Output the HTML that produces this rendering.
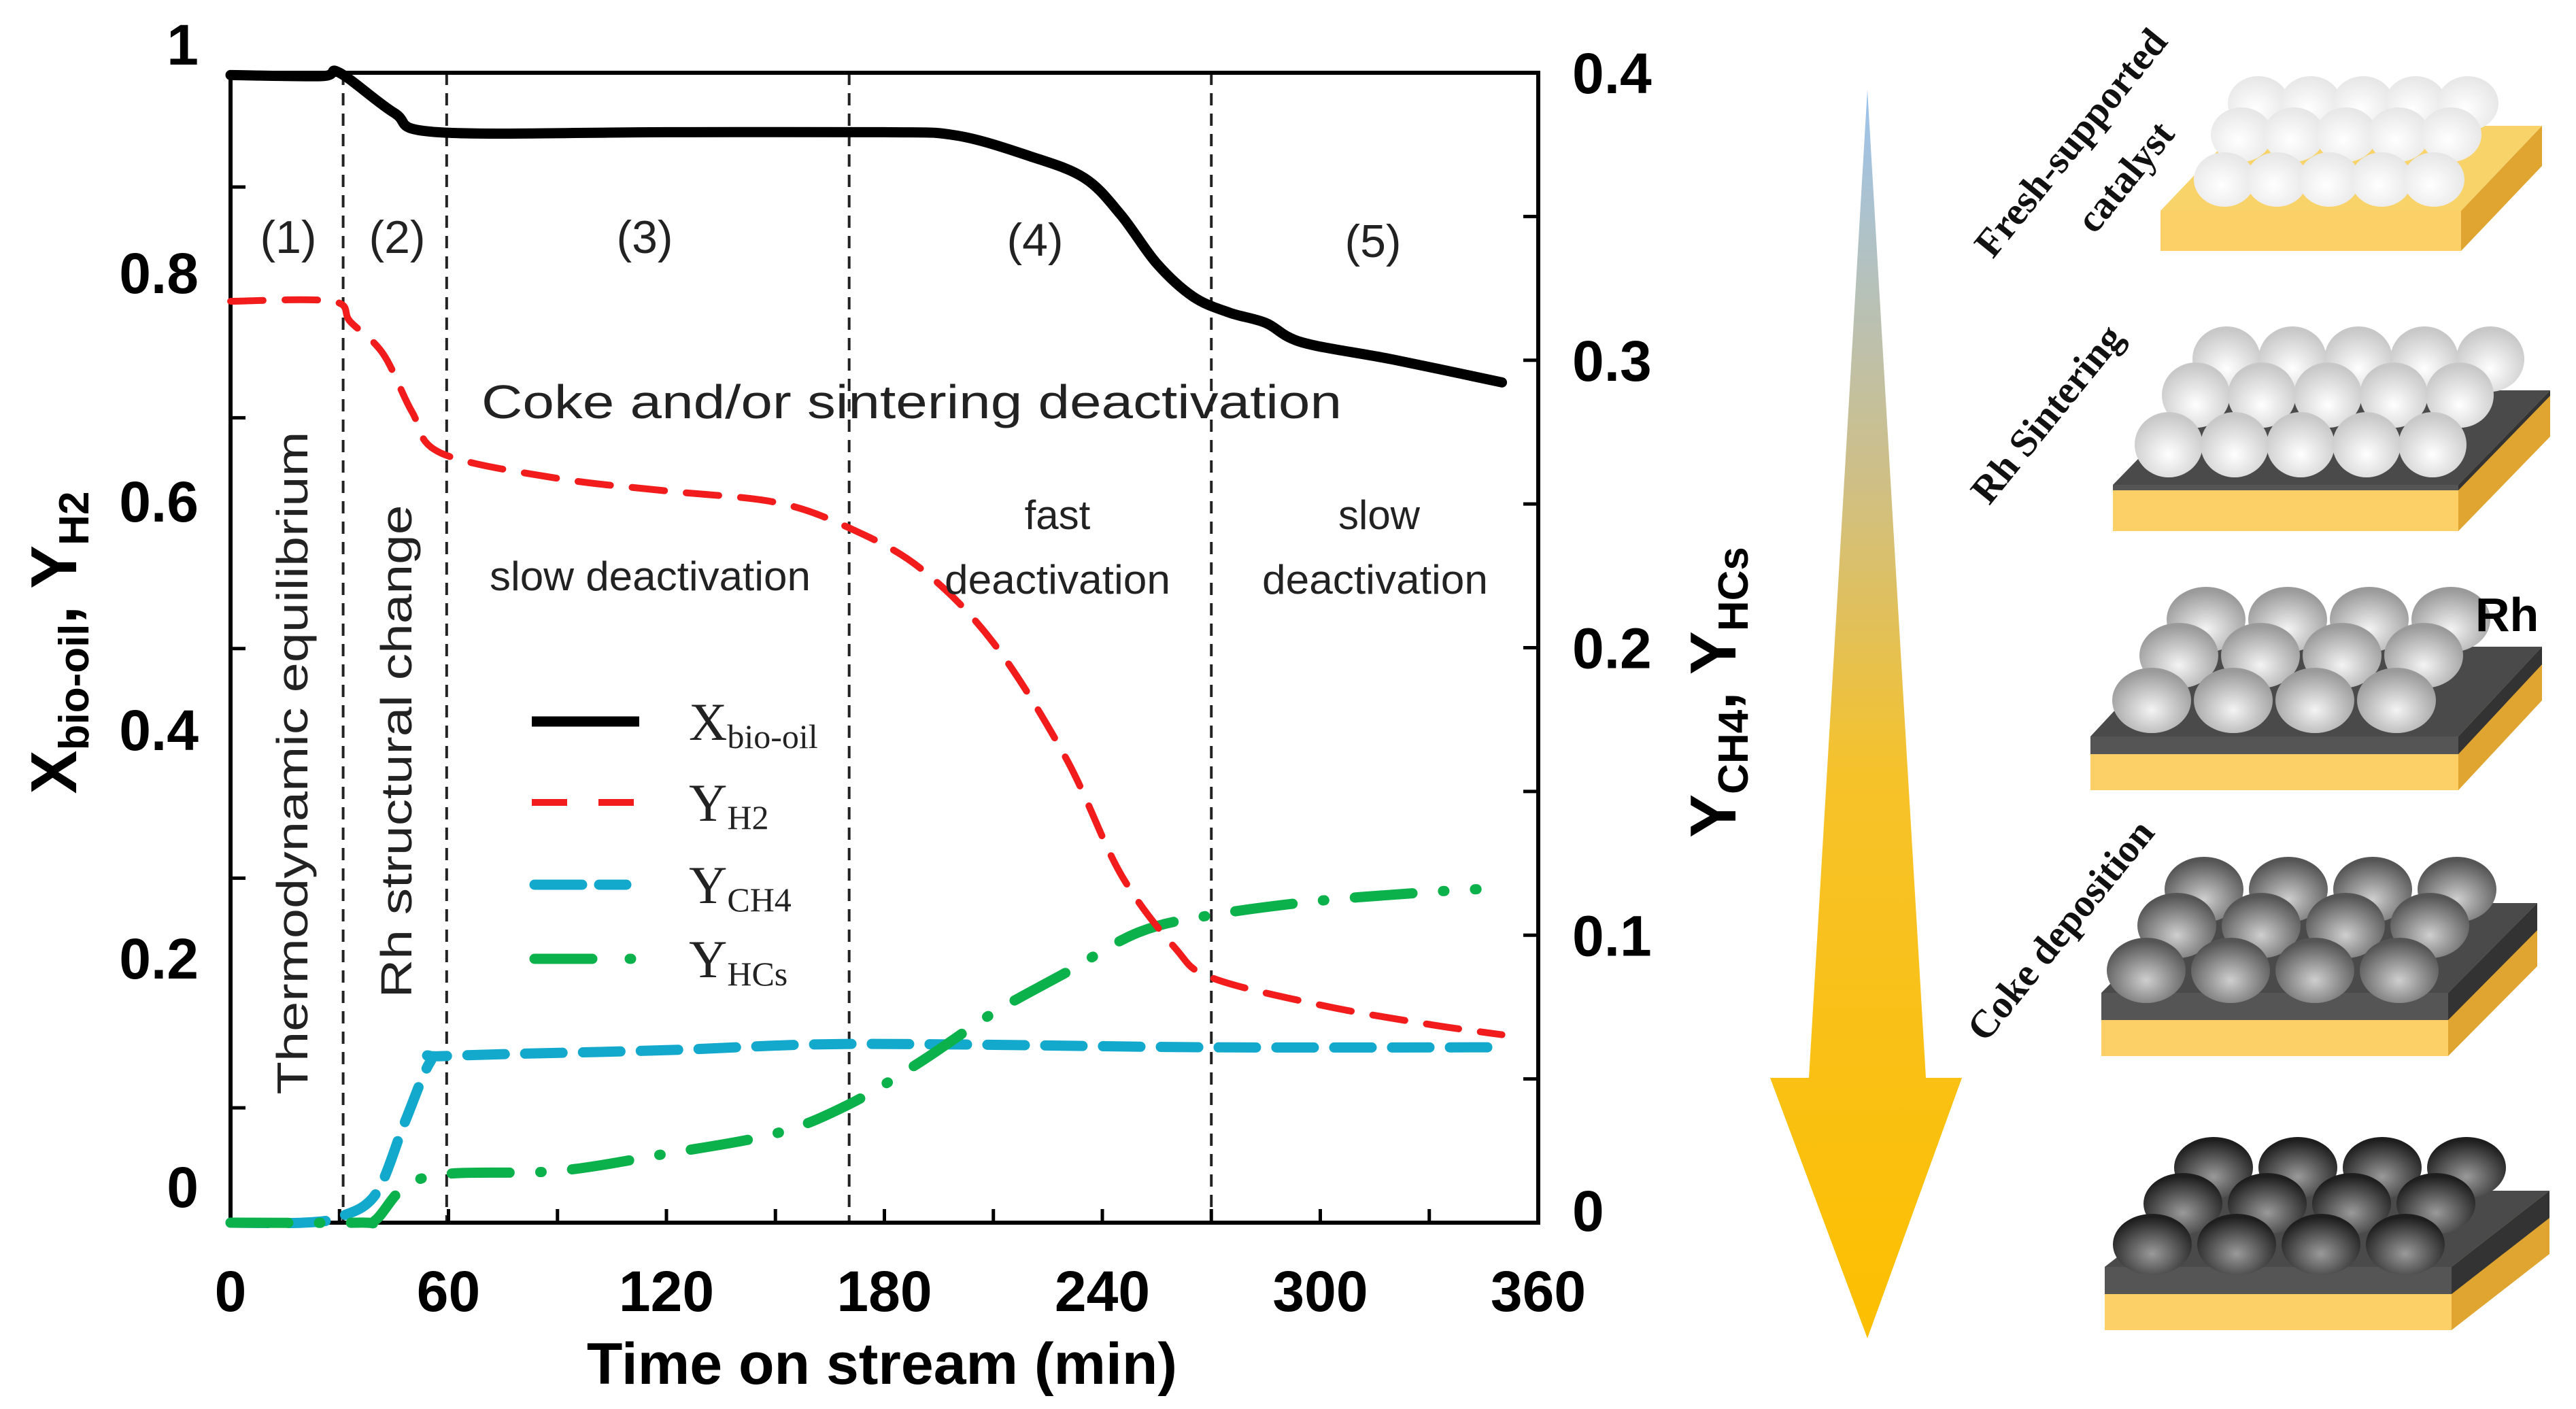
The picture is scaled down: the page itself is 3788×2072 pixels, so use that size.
<!DOCTYPE html>
<html><head><meta charset="utf-8">
<style>
html,body{margin:0;padding:0;background:#fff;}
svg{display:block;}
text{font-family:"Liberation Sans",sans-serif;}
</style></head>
<body>
<svg id="fig" width="3788" height="2072" viewBox="0 0 3788 2072" xmlns="http://www.w3.org/2000/svg">
<defs>
<linearGradient id="arrowGrad" x1="0" y1="0" x2="0" y2="1">
<stop offset="0" stop-color="#9cc3ee"/>
<stop offset="0.3" stop-color="#cdbf8a"/>
<stop offset="0.55" stop-color="#f6c22a"/>
<stop offset="1" stop-color="#fdbf00"/>
</linearGradient>
<radialGradient id="sp1" cx="0.45" cy="0.6" r="0.6"><stop offset="0" stop-color="#ffffff"/><stop offset="1" stop-color="#e6e6e6"/></radialGradient>
<radialGradient id="sp2" cx="0.5" cy="0.65" r="0.6"><stop offset="0" stop-color="#ffffff"/><stop offset="1" stop-color="#c8c8c8"/></radialGradient>
<radialGradient id="sp3" cx="0.5" cy="0.65" r="0.6"><stop offset="0" stop-color="#f4f4f4"/><stop offset="1" stop-color="#9a9a9a"/></radialGradient>
<radialGradient id="sp4" cx="0.5" cy="0.65" r="0.6"><stop offset="0" stop-color="#cfcfcf"/><stop offset="1" stop-color="#555"/></radialGradient>
<radialGradient id="sp5" cx="0.5" cy="0.65" r="0.6"><stop offset="0" stop-color="#9a9a9a"/><stop offset="1" stop-color="#1e1e1e"/></radialGradient>
</defs>
<g id="chart"></g>
<g id="panel"></g>
</svg>
<script>
// ---- data ----
const timeX = [0,25,30,45,57,120,180,200,220,235,245,255,265,275,285,295,320,350];
const bioOil = [0.973,0.972,0.975,0.94,0.923,0.923,0.923,0.92,0.902,0.883,0.851,0.808,0.779,0.765,0.756,0.739,0.724,0.704];
const timeH2 = [0,28,33,42,50,58,90,120,150,170,190,210,230,245,260,270,300,330,350];
const yH2 = [0.775,0.775,0.757,0.729,0.678,0.642,0.62,0.609,0.599,0.577,0.541,0.476,0.375,0.274,0.209,0.183,0.159,0.142,0.133];
const timeCH4 = [0,20,30,40,48,55,60,120,160,200,270,350];
const yCH4 = [0,0,0.002,0.01,0.035,0.056,0.058,0.06,0.062,0.062,0.061,0.061];
const timeHC = [0,35,40,48,60,90,120,150,170,190,210,230,250,270,300,330,343];
const yHC = [0,0,0.001,0.0125,0.017,0.018,0.024,0.031,0.041,0.056,0.073,0.087,0.101,0.107,0.112,0.115,0.116];
const xTicks = [0,60,120,180,240,300,360];
const xMinor = [30,90,150,210,270,330];
const leftLabels = ["0","0.2","0.4","0.6","0.8","1"];
const leftLabelVals = [0,0.2,0.4,0.6,0.8,1];
const leftTickVals = [0.069,0.27,0.471,0.673,0.875];
const rightLabels = ["0","0.1","0.2","0.3","0.4"];
const rightLabelVals = [0,0.1,0.2,0.3,0.4];
const rightTickVals = [0.05,0.1,0.15,0.2,0.25,0.3,0.35];
const phaseBounds = [31,59.5,170.3,270];

// ---- axes ----
const X0=339,X1=2262,Y0=1798,Y1=107;
const xs = t => X0 + t*(X1-X0)/360;
const yL = v => 1745 - v*1680;
const yR = v => Y0 - v*(Y0-Y1)/0.4;
const NS="http://www.w3.org/2000/svg";
const chart=document.getElementById('chart');
function mk(tag,attrs,parent){const e=document.createElementNS(NS,tag);for(const k in attrs)e.setAttribute(k,attrs[k]);(parent||chart).appendChild(e);return e;}
function smooth(pts){
  let d="M"+pts[0][0].toFixed(1)+","+pts[0][1].toFixed(1);
  for(let i=0;i<pts.length-1;i++){
    const p0=pts[Math.max(0,i-1)],p1=pts[i],p2=pts[i+1],p3=pts[Math.min(pts.length-1,i+2)];
    const c1=[p1[0]+(p2[0]-p0[0])/6,p1[1]+(p2[1]-p0[1])/6];
    const c2=[p2[0]-(p3[0]-p1[0])/6,p2[1]-(p3[1]-p1[1])/6];
    d+="C"+c1[0].toFixed(1)+","+c1[1].toFixed(1)+" "+c2[0].toFixed(1)+","+c2[1].toFixed(1)+" "+p2[0].toFixed(1)+","+p2[1].toFixed(1);
  }
  return d;
}

phaseBounds.forEach(t=>{
  const l=mk('line',{x1:xs(t),x2:xs(t),y1:Y1,y2:Y0,stroke:'#222','stroke-width':4,'stroke-dasharray':'18 12'});
  
  
});

const fr=mk('rect',{x:X0,y:Y1,width:X1-X0,height:Y0-Y1,fill:'none',stroke:'#000','stroke-width':6});



xTicks.concat(xMinor).forEach(t=>{
  const l=mk('line',{x1:xs(t),x2:xs(t),y1:Y0,y2:Y0-20,stroke:'#000','stroke-width':5});
  
  
});
xTicks.forEach(t=>{
  const tx=mk('text',{x:xs(t),y:1928,'text-anchor':'middle','font-size':84,'font-weight':'bold'});
  tx.textContent=String(t);
  
  
});
leftTickVals.forEach(v=>{
  const l=mk('line',{x1:X0,x2:X0+22,y1:yL(v),y2:yL(v),stroke:'#000','stroke-width':5});
  
  
});
leftLabelVals.forEach((v,i)=>{
  const tx=mk('text',{x:292,y:yL(v)+30,'text-anchor':'end','font-size':84,'font-weight':'bold'});
  tx.textContent=leftLabels[i];
  
  
});
rightTickVals.forEach(v=>{
  const l=mk('line',{x1:X1,x2:X1-22,y1:yR(v),y2:yR(v),stroke:'#000','stroke-width':5});
  
  
});
rightLabelVals.forEach((v,i)=>{
  const tx=mk('text',{x:2312,y:Math.min(yR(v),1780)+30,'text-anchor':'start','font-size':84,'font-weight':'bold'});
  tx.textContent=rightLabels[i];
  
  
});

function series(tArr,vArr,yf,attrs,name){
  const pts=tArr.map((t,i)=>[xs(t),yf(vArr[i])]);
  const p=mk('path',Object.assign({d:smooth(pts),fill:'none','stroke-linecap':'round','stroke-linejoin':'round'},attrs));
  
  
}
series(timeCH4,yCH4,yR,{stroke:'#12a9cc','stroke-width':15,'stroke-dasharray':'55 30'},'series-y-ch4');
series(timeHC,yHC,yR,{stroke:'#0bb14a','stroke-width':15,'stroke-dasharray':'85 45 2 45'},'series-y-hcs');
series(timeH2,yH2,yL,{stroke:'#f21c1c','stroke-width':10,'stroke-dasharray':'48 32'},'series-y-h2');
series(timeX,bioOil,yL,{stroke:'#000','stroke-width':15},'series-x-bio-oil');
</script>

<script>
(function(){
const chart=document.getElementById('chart');
const panel=document.getElementById('panel');
function add(parent,html){parent.insertAdjacentHTML('beforeend',html);}
add(chart,`
<g font-size="68" fill="#222" text-anchor="middle">
<text x="424" y="372">(1)</text>
<text x="584" y="372">(2)</text>
<text x="948" y="372">(3)</text>
<text x="1522" y="376">(4)</text>
<text x="2019" y="378">(5)</text>
</g>
<text x="708" y="615" font-size="70" fill="#222" textLength="1265" lengthAdjust="spacingAndGlyphs">Coke and/or sintering deactivation</text>
<text x="720" y="868" font-size="60" fill="#222" textLength="472" lengthAdjust="spacingAndGlyphs">slow deactivation</text>
<text x="1555" y="778" font-size="60" fill="#222" text-anchor="middle">fast</text>
<text x="1389" y="873" font-size="60" fill="#222" textLength="332" lengthAdjust="spacingAndGlyphs">deactivation</text>
<text x="2028" y="778" font-size="60" fill="#222" text-anchor="middle">slow</text>
<text x="1856" y="873" font-size="60" fill="#222" textLength="332" lengthAdjust="spacingAndGlyphs">deactivation</text>
<text transform="translate(452,1122) rotate(-90)" text-anchor="middle" font-size="64" fill="#222" textLength="975" lengthAdjust="spacingAndGlyphs">Thermodynamic equilibrium</text>
<text transform="translate(605,1105) rotate(-90)" text-anchor="middle" font-size="64" fill="#222" textLength="725" lengthAdjust="spacingAndGlyphs">Rh structural change</text>
<g font-size="78" fill="#222">
<line x1="782" y1="1061" x2="940" y2="1061" stroke="#000" stroke-width="15"/>
<text x="1013" y="1088" style="font-family:'Liberation Serif',serif">X<tspan font-size="50" dy="12">bio-oil</tspan></text>
<line x1="782" y1="1180" x2="940" y2="1180" stroke="#f21c1c" stroke-width="10" stroke-dasharray="52 46"/>
<text x="1013" y="1207" style="font-family:'Liberation Serif',serif">Y<tspan font-size="50" dy="12">H2</tspan></text>
<line x1="786" y1="1301" x2="936" y2="1301" stroke="#12a9cc" stroke-width="15" stroke-linecap="round" stroke-dasharray="70 25 40 100"/>
<text x="1013" y="1328" style="font-family:'Liberation Serif',serif">Y<tspan font-size="50" dy="12">CH4</tspan></text>
<line x1="786" y1="1410" x2="936" y2="1410" stroke="#0bb14a" stroke-width="15" stroke-linecap="round" stroke-dasharray="85 55 2 100"/>
<text x="1013" y="1437" style="font-family:'Liberation Serif',serif">Y<tspan font-size="50" dy="12">HCs</tspan></text>
</g>
<text x="1297" y="2035" text-anchor="middle" font-size="86" font-weight="bold">Time on stream (min)</text>
<text transform="translate(112,945) rotate(-90)" text-anchor="middle" font-size="96" font-weight="bold">X<tspan font-size="62" dy="18">bio-oil</tspan><tspan dy="-18">, Y</tspan><tspan font-size="62" dy="18">H2</tspan></text>
<text transform="translate(2552,1018) rotate(-90)" text-anchor="middle" font-size="96" font-weight="bold">Y<tspan font-size="62" dy="18">CH4</tspan><tspan dy="-18">, Y</tspan><tspan font-size="62" dy="18">HCs</tspan></text>
`);

add(panel,`<polygon points="2746,132 2832,1585 2885,1585 2746,1968 2603,1585 2660,1585" fill="url(#arrowGrad)"/>`);

const slabs=[
 {x0:3177,x1:3619,dx:119,yF:310,dy:125,gray:0,yel:59,grad:'sp1',rows:[152,198,264],rx:45,ry:40,n:5,front:3271,sp:77,shift:[50,25,0]},
 {x0:3107,x1:3615,dx:135,yF:713,dy:139,gray:8,yel:60,grad:'sp2',rows:[528,581,654],rx:50,ry:48,n:5,front:3189,sp:97,shift:[85,40,0]},
 {x0:3074,x1:3615,dx:123,yF:1083,dy:132,gray:26,yel:53,grad:'sp3',rows:[911,964,1030],rx:58,ry:48,n:4,front:3164,sp:120,shift:[80,40,0]},
 {x0:3090,x1:3600,dx:131,yF:1460,dy:132,gray:40,yel:53,grad:'sp4',rows:[1308,1361,1427],rx:58,ry:48,n:4,front:3156,sp:124,shift:[85,45,0]},
 {x0:3095,x1:3605,dx:144,yF:1863,dy:112,gray:40,yel:53,grad:'sp5',rows:[1717,1770,1830],rx:58,ry:45,n:4,front:3165,sp:124,shift:[90,45,0]}
];
slabs.forEach((s,i)=>{
  let g=`<g>`;
  const topC=s.gray?'#4a4a4a':'#f8d36a';
  const yb=s.yF+s.gray+s.yel;
  g+=`<polygon points="${s.x1},${s.yF} ${s.x1+s.dx},${s.yF-s.dy} ${s.x1+s.dx},${s.yF-s.dy+s.gray+s.yel} ${s.x1},${yb}" fill="#e0a531"/>`;
  if(s.gray) g+=`<polygon points="${s.x1},${s.yF} ${s.x1+s.dx},${s.yF-s.dy} ${s.x1+s.dx},${s.yF-s.dy+s.gray} ${s.x1},${s.yF+s.gray}" fill="#333"/>`;
  g+=`<polygon points="${s.x0},${s.yF} ${s.x1},${s.yF} ${s.x1+s.dx},${s.yF-s.dy} ${s.x0+s.dx},${s.yF-s.dy}" fill="${topC}"/>`;
  if(s.gray) g+=`<rect x="${s.x0}" y="${s.yF}" width="${s.x1-s.x0}" height="${s.gray}" fill="#555"/>`;
  g+=`<rect x="${s.x0}" y="${s.yF+s.gray}" width="${s.x1-s.x0}" height="${s.yel}" fill="#fcd066"/>`;
  s.rows.forEach((ry,ri)=>{
    for(let k=0;k<s.n;k++){
      const cx=s.front+s.shift[ri]+k*s.sp;
      g+=`<ellipse cx="${cx}" cy="${ry}" rx="${s.rx}" ry="${s.ry}" fill="url(#${s.grad})"/>`;
    }
  });
  g+=`</g>`;
  add(panel,g);
});
add(panel,`
<text x="3640" y="928" font-size="70" font-weight="bold">Rh</text>
<g font-weight="bold" font-size="58" fill="#111" text-anchor="middle">
<text transform="translate(3060,222) rotate(-51)" style="font-family:'Liberation Serif',serif">Fresh-supported</text>
<text transform="translate(3140,272) rotate(-51)" style="font-family:'Liberation Serif',serif">catalyst</text>
<text transform="translate(3025,621) rotate(-51)" style="font-family:'Liberation Serif',serif">Rh Sintering</text>
<text transform="translate(3045,1380) rotate(-51)" style="font-family:'Liberation Serif',serif">Coke deposition</text>
</g>`);
})();
</script>
</body></html>
